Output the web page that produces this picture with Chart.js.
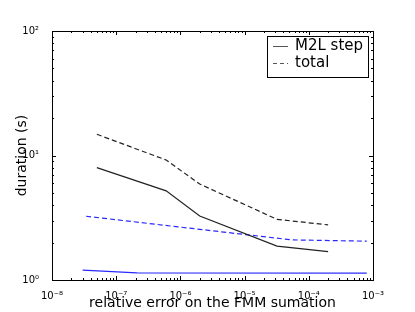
<!DOCTYPE html>
<html>
<head>
<meta charset="utf-8">
<script src="https://cdn.jsdelivr.net/npm/chart.js@4.4.1/dist/chart.umd.min.js"></script>
<style>
  body { margin: 0; background: #fff; }
  canvas { display: block; }
</style>
</head>
<body>
<canvas id="durationChart" width="415" height="312"></canvas>
<script>
// relative error (x) and duration in seconds (y)
const m2lError = [5e-8, 6e-7, 2e-6, 3.2e-5, 2e-4];
const m2lTime = [8.0, 5.2, 3.27, 1.87, 1.69];
const totalTime = [14.8, 9.2, 5.9, 3.07, 2.77];

const blueStepError = [3e-8, 2.1e-7, 8e-4];
const blueStepTime = [1.2, 1.14, 1.135];
const blueTotalError = [3.4e-8, 5.4e-5, 8e-4];
const blueTotalTime = [3.25, 2.1, 2.05];

const legendLabels = ["M2L step", "total"];
const xTitle = "relative error on the FMM sumation";
const yTitle = "duration (s)";

const FONT = "'DejaVu Sans', sans-serif";
const sup = { "-": "\u207B", "0": "\u2070", "1": "\u00B9", "2": "\u00B2", "3": "\u00B3",
  "4": "\u2074", "5": "\u2075", "6": "\u2076", "7": "\u2077", "8": "\u2078", "9": "\u2079" };

function pts(xs, ys) {
  return xs.map((x, i) => ({ x: x, y: ys[i] }));
}

function decadeLabel(v) {
  const e = Math.log10(v);
  if (Math.abs(e - Math.round(e)) > 1e-6) return "";
  return "10" + String(Math.round(e)).split("").map((c) => sup[c]).join("");
}

// matplotlib style frame: inward major/minor ticks on all four sides + legend box
const framePlugin = {
  id: "frame",
  afterDraw(chart) {
    const ctx = chart.ctx;
    const { left, right, top, bottom } = chart.chartArea;
    const xs = chart.scales.x;
    const ys = chart.scales.y;
    ctx.save();
    ctx.strokeStyle = "#000";
    ctx.lineWidth = 1;
    ctx.strokeRect(Math.round(left) + 0.5, Math.round(top) + 0.5,
      Math.round(right - left), Math.round(bottom - top));

    ctx.beginPath();
    for (let d = -8; d < -3; d++) {
      for (let m = 1; m <= 9; m++) {
        const px = Math.round(xs.getPixelForValue(m * Math.pow(10, d))) + 0.5;
        const len = m === 1 ? 4 : 2;
        ctx.moveTo(px, bottom); ctx.lineTo(px, bottom - len);
        ctx.moveTo(px, top); ctx.lineTo(px, top + len);
      }
    }
    for (let d = 0; d < 2; d++) {
      for (let m = 1; m <= 9; m++) {
        const py = Math.round(ys.getPixelForValue(m * Math.pow(10, d))) + 0.5;
        const len = m === 1 ? 4 : 2;
        ctx.moveTo(left, py); ctx.lineTo(left + len, py);
        ctx.moveTo(right, py); ctx.lineTo(right - len, py);
      }
    }
    ctx.stroke();

    // legend
    const bx = 267, by = 36, bw = 101, bh = 41;
    ctx.fillStyle = "#fff";
    ctx.fillRect(bx, by, bw, bh);
    ctx.strokeStyle = "#000";
    ctx.strokeRect(bx + 0.5, by + 0.5, bw, bh);
    ctx.font = "15px " + FONT;
    ctx.textBaseline = "middle";
    ctx.fillStyle = "#000";
    const rows = [by + 10, by + 27];
    ctx.strokeStyle = "#555";
    ctx.beginPath();
    ctx.moveTo(bx + 6, rows[0] + 0.5); ctx.lineTo(bx + 21, rows[0] + 0.5);
    ctx.stroke();
    ctx.setLineDash([4, 3]);
    ctx.beginPath();
    ctx.moveTo(bx + 6, rows[1] + 0.5); ctx.lineTo(bx + 21, rows[1] + 0.5);
    ctx.stroke();
    ctx.setLineDash([]);
    ctx.fillText(legendLabels[0], bx + 28, rows[0]);
    ctx.fillText(legendLabels[1], bx + 28, rows[1]);
    ctx.restore();
  }
};

new Chart(document.getElementById("durationChart"), {
  type: "line",
  data: {
    datasets: [
      { data: pts(m2lError, m2lTime), borderColor: "#222", borderWidth: 1.2 },
      { data: pts(m2lError, totalTime), borderColor: "#222", borderWidth: 1.2, borderDash: [5, 3] },
      { data: pts(blueStepError, blueStepTime), borderColor: "#2a2aff", borderWidth: 1.4 },
      { data: pts(blueTotalError, blueTotalTime), borderColor: "#2a2aff", borderWidth: 1.2, borderDash: [5, 3] },
    ],
  },
  options: {
    responsive: false,
    devicePixelRatio: 1,
    animation: false,
    parsing: false,
    layout: { padding: { left: 0, right: 42, top: 31, bottom: 0 } },
    elements: { point: { radius: 0 }, line: { tension: 0, fill: false } },
    plugins: { legend: { display: false }, tooltip: { enabled: false } },
    scales: {
      x: {
        type: "logarithmic",
        min: 1e-8,
        max: 1e-3,
        grid: { display: false },
        border: { display: false },
        ticks: {
          autoSkip: false, maxRotation: 0, padding: 2, color: "#000",
          font: { family: FONT, size: 10 },
          callback: (v) => decadeLabel(v),
        },
        title: {
          display: true, text: xTitle, color: "#000",
          font: { family: FONT, size: 14 }, padding: { top: 0, bottom: 0 },
        },
        afterFit: (s) => { s.height = 32; },
      },
      y: {
        type: "logarithmic",
        min: 1,
        max: 100,
        grid: { display: false },
        border: { display: false },
        ticks: {
          autoSkip: false, padding: 5, color: "#000",
          font: { family: FONT, size: 10 },
          callback: (v) => decadeLabel(v),
        },
        title: {
          display: true, text: yTitle, color: "#000",
          font: { family: FONT, size: 14 }, padding: { top: 14, bottom: 0 },
        },
        afterFit: (s) => { s.width = 52; },
      },
    },
  },
  plugins: [framePlugin],
});
</script>
</body>
</html>
